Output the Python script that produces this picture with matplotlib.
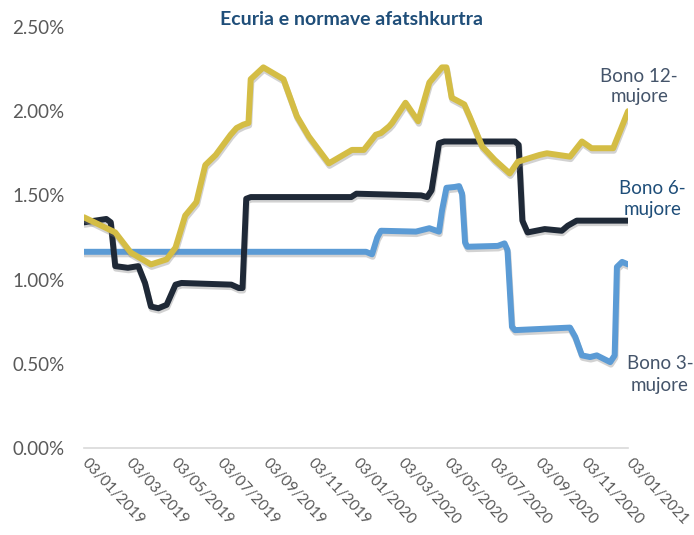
import matplotlib
matplotlib.use("Agg")
import matplotlib.pyplot as plt
import matplotlib.dates as mdates
import matplotlib.patheffects as pe
from matplotlib.ticker import FuncFormatter
import pandas as pd

# Bono 12-mujore
dates_12 = ["2019-01-03", "2019-02-14", "2019-03-07", "2019-04-03", "2019-04-24",
            "2019-05-06", "2019-05-19", "2019-06-03", "2019-06-15", "2019-06-29",
            "2019-07-19", "2019-07-27", "2019-08-05", "2019-08-12", "2019-08-15",
            "2019-09-01", "2019-09-28", "2019-10-16", "2019-11-01", "2019-11-28",
            "2019-12-29", "2020-01-14", "2020-01-30", "2020-02-06", "2020-02-17",
            "2020-02-21", "2020-03-10", "2020-03-27", "2020-04-11", "2020-04-28",
            "2020-05-04", "2020-05-11", "2020-05-28", "2020-06-04", "2020-06-21",
            "2020-07-08", "2020-07-28", "2020-08-08", "2020-09-06", "2020-09-16",
            "2020-10-17", "2020-11-02", "2020-11-15", "2020-12-14", "2021-01-03"]
vals_12 = [1.37, 1.28, 1.16, 1.09, 1.12,
           1.19, 1.38, 1.46, 1.68, 1.74,
           1.86, 1.90, 1.92, 1.93, 2.19,
           2.26, 2.19, 1.97, 1.85, 1.69,
           1.77, 1.77, 1.86, 1.87, 1.91,
           1.93, 2.05, 1.94, 2.17, 2.26,
           2.26, 2.08, 2.04, 1.97, 1.79,
           1.71, 1.63, 1.70, 1.74, 1.75,
           1.73, 1.82, 1.78, 1.78, 2.00]

# Bono 6-mujore
dates_6 = ["2019-01-03", "2019-02-02", "2019-02-08", "2019-02-14", "2019-03-03",
           "2019-03-17", "2019-03-26", "2019-04-03", "2019-04-13", "2019-04-24",
           "2019-05-06", "2019-05-14", "2019-07-20", "2019-07-30", "2019-08-04",
           "2019-08-09", "2019-08-15", "2019-12-28", "2020-01-04", "2020-03-31",
           "2020-04-08", "2020-04-14", "2020-04-24", "2020-05-01", "2020-08-04",
           "2020-08-09", "2020-08-14", "2020-08-21", "2020-09-13", "2020-10-06",
           "2020-10-14", "2020-10-26", "2021-01-03"]
vals_6 = [1.34, 1.36, 1.34, 1.08, 1.07,
          1.08, 0.98, 0.84, 0.83, 0.85,
          0.97, 0.98, 0.97, 0.95, 0.95,
          1.48, 1.49, 1.49, 1.51, 1.50,
          1.49, 1.53, 1.81, 1.82, 1.82,
          1.80, 1.35, 1.28, 1.30, 1.29,
          1.32, 1.35, 1.35]

# Bono 3-mujore
dates_3 = ["2019-01-03", "2020-01-17", "2020-01-25", "2020-02-01", "2020-02-06",
           "2020-03-24", "2020-04-11", "2020-04-24", "2020-04-28", "2020-05-04",
           "2020-05-15", "2020-05-21", "2020-05-25", "2020-05-29", "2020-06-01",
           "2020-07-12", "2020-07-21", "2020-07-25", "2020-07-31", "2020-08-04",
           "2020-10-17", "2020-10-24", "2020-11-02", "2020-11-13", "2020-11-22",
           "2020-12-10", "2020-12-16", "2020-12-19", "2020-12-26", "2021-01-03"]
vals_3 = [1.165, 1.165, 1.15, 1.25, 1.29,
          1.285, 1.305, 1.285, 1.41, 1.545,
          1.55, 1.555, 1.51, 1.22, 1.195,
          1.20, 1.215, 1.175, 0.72, 0.70,
          0.715, 0.66, 0.55, 0.54, 0.55,
          0.51, 0.55, 1.075, 1.105, 1.09]

tick_dates = pd.date_range("2019-01-01", periods=13, freq="2MS") + pd.Timedelta(days=2)

plt.rcParams["font.family"] = ["Lato", "DejaVu Sans"]

fig = plt.figure(figsize=(6.94, 5.35), dpi=100)
ax = fig.add_axes([0.121, 0.1626, 0.784, 0.787])

shadow = [pe.SimpleLineShadow(offset=(0.5, -1.8), shadow_color="#7f7f7f", alpha=0.35), pe.Normal()]
lw = 4.3
ax.plot(pd.to_datetime(dates_3), vals_3, color="#5B9BD5", lw=lw, solid_joinstyle="round",
        solid_capstyle="round", path_effects=shadow)
ax.plot(pd.to_datetime(dates_6), vals_6, color="#1F2937", lw=lw, solid_joinstyle="round",
        solid_capstyle="round", path_effects=shadow)
ax.plot(pd.to_datetime(dates_12), vals_12, color="#D4BD45", lw=lw, solid_joinstyle="round",
        solid_capstyle="round", path_effects=shadow)

ax.set_ylim(0, 2.5)
ax.set_yticks([0, 0.5, 1.0, 1.5, 2.0, 2.5])
ax.yaxis.set_major_formatter(FuncFormatter(lambda v, p: f"{v:.2f}%"))
ax.set_xlim(pd.Timestamp("2019-01-03"), pd.Timestamp("2021-01-03"))
ax.set_xticks(tick_dates)
ax.xaxis.set_major_formatter(mdates.DateFormatter("%d/%m/%Y"))

for s in ["top", "right", "left"]:
    ax.spines[s].set_visible(False)
ax.spines["bottom"].set_color("#D9D9D9")
ax.spines["bottom"].set_linewidth(1.2)
ax.tick_params(axis="both", length=0, colors="#595959")
ax.tick_params(axis="y", labelsize=13.5, pad=14)
ax.tick_params(axis="x", labelsize=11, pad=9)
for lab in ax.get_xticklabels():
    lab.set_rotation(-47)
    lab.set_rotation_mode("anchor")
    lab.set_ha("left")
    lab.set_va("center")

fig.text(0.507, 0.963, "Ecuria e normave afatshkurtra", ha="center", va="center",
         fontsize=14, fontweight="bold", color="#1F4E79")

fig.text(0.921, 0.838, "Bono 12-\nmujore", ha="center", va="center", fontsize=13.5,
         color="#44546A", linespacing=1.25)
fig.text(0.940, 0.628, "Bono 6-\nmujore", ha="center", va="center", fontsize=13.5,
         color="#1F4E79", linespacing=1.25)
fig.text(0.951, 0.300, "Bono 3-\nmujore", ha="center", va="center", fontsize=13.5,
         color="#44546A", linespacing=1.3)

plt.savefig("out.png", dpi=100)
plt.close()
